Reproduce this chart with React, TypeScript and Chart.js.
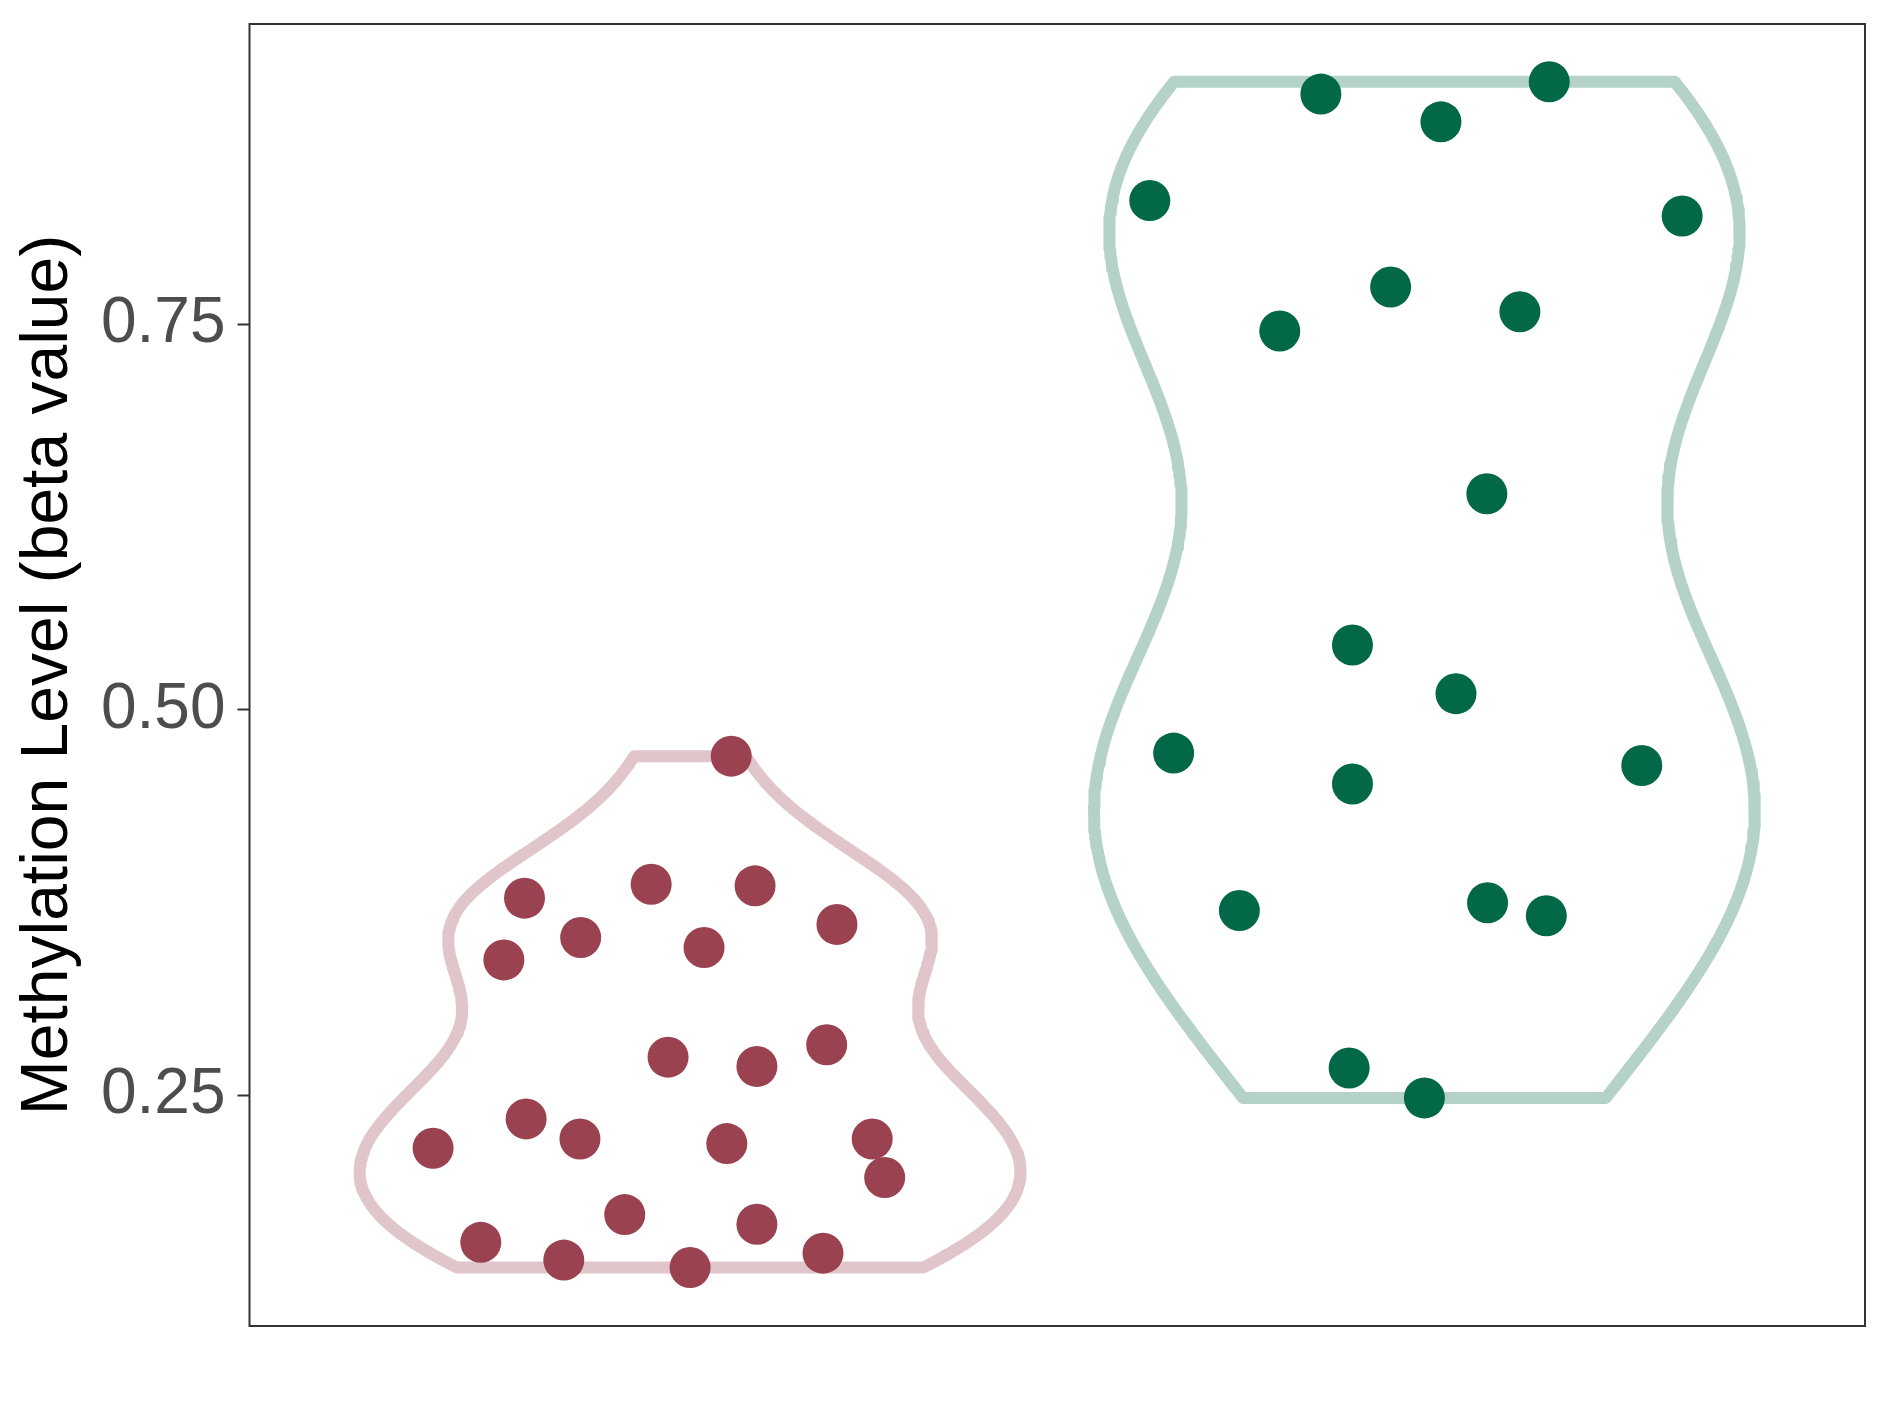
import React, { useEffect, useRef } from 'react';
import { Chart, registerables } from 'chart.js';

Chart.register(...registerables);

// Category positions on the (hidden) x axis
const categoryPositions = [1, 2];

// Group 1 (red) — methylation beta values and horizontal jitter (category units)
const group1Values = [
  0.470, 0.378, 0.387, 0.386, 0.361, 0.3525, 0.338, 0.346, 0.275, 0.269, 0.283, 0.235,
  0.216, 0.222, 0.219, 0.222, 0.197, 0.173, 0.1667, 0.155, 0.1435, 0.1387, 0.148,
];
const group1Jitter = [
  0.056, -0.2255, -0.053, 0.0885, 0.2, -0.149, -0.2536, 0.019, -0.03, 0.091, 0.186, -0.2233,
  -0.35, -0.15, 0.05, 0.248, 0.265, -0.089, 0.091, -0.285, -0.172, 0.0, 0.181,
];

// Group 2 (green)
const group2Values = [
  0.899, 0.907, 0.881, 0.83, 0.82, 0.774, 0.7455, 0.758, 0.64, 0.542, 0.5105, 0.472,
  0.452, 0.464, 0.37, 0.375, 0.3666, 0.268, 0.2486,
];
const group2Jitter = [
  -0.141, 0.17, 0.0225, -0.374, 0.351, -0.046, -0.197, 0.13, 0.085, -0.098, 0.043, -0.3415,
  -0.098, 0.296, -0.252, 0.086, 0.166, -0.1025, 0.0,
];

const yTicks = [0.25, 0.5, 0.75];
const yMin = 0.1008;
const yMax = 0.9444;
const xMin = 0.4;
const xMax = 2.6;
const violinHalfWidth = 0.45;

const yTitle = 'Methylation Level (beta value)';

function quantile7(sorted: number[], p: number) {
  const h = (sorted.length - 1) * p;
  const lo = Math.floor(h);
  const hi = Math.ceil(h);
  return sorted[lo] + (h - lo) * (sorted[hi] - sorted[lo]);
}

function bwNrd0(x: number[]) {
  const n = x.length;
  const mean = x.reduce((a, b) => a + b, 0) / n;
  const sd = Math.sqrt(x.reduce((a, b) => a + (b - mean) * (b - mean), 0) / (n - 1));
  const s = [...x].sort((a, b) => a - b);
  const iqr = quantile7(s, 0.75) - quantile7(s, 0.25);
  const lo = Math.min(sd, iqr / 1.34);
  return 0.9 * lo * Math.pow(n, -0.2);
}

// Kernel density estimate of the data (what a violin shows), trimmed to the data range
function violinOutline(values: number[], center: number) {
  const bw = bwNrd0(values);
  const lo = Math.min(...values);
  const hi = Math.max(...values);
  const N = 256;
  const ys: number[] = [];
  const ds: number[] = [];
  for (let i = 0; i < N; i++) {
    const y = lo + ((hi - lo) * i) / (N - 1);
    let d = 0;
    for (const v of values) {
      const z = (y - v) / bw;
      d += Math.exp(-0.5 * z * z);
    }
    ys.push(y);
    ds.push(d / (values.length * bw * Math.sqrt(2 * Math.PI)));
  }
  const maxD = Math.max(...ds);
  const pts: { x: number; y: number }[] = [];
  for (let i = 0; i < N; i++) pts.push({ x: center - (violinHalfWidth * ds[i]) / maxD, y: ys[i] });
  for (let i = N - 1; i >= 0; i--) pts.push({ x: center + (violinHalfWidth * ds[i]) / maxD, y: ys[i] });
  pts.push({ ...pts[0] });
  return pts;
}

const framePlugin = {
  id: 'panelFrame',
  afterDatasetsDraw(chart: any) {
    const { ctx, chartArea } = chart;
    ctx.save();
    ctx.strokeStyle = '#333333';
    ctx.lineWidth = 2;
    ctx.strokeRect(chartArea.left, chartArea.top, chartArea.right - chartArea.left, chartArea.bottom - chartArea.top);
    ctx.restore();
  },
};

export default function App() {
  const canvasRef = useRef<HTMLCanvasElement | null>(null);

  useEffect(() => {
    if (!canvasRef.current) return;
    const pts1 = group1Values.map((v, i) => ({ x: categoryPositions[0] + group1Jitter[i], y: v }));
    const pts2 = group2Values.map((v, i) => ({ x: categoryPositions[1] + group2Jitter[i], y: v }));
    const chart = new Chart(canvasRef.current, {
      type: 'scatter',
      data: {
        datasets: [
          {
            label: 'group1 points',
            data: pts1,
            backgroundColor: '#9A4250',
            borderWidth: 0,
            pointRadius: 20.5,
            pointHoverRadius: 20.5,
            showLine: false,
            order: 0,
          },
          {
            label: 'group2 points',
            data: pts2,
            backgroundColor: '#036847',
            borderWidth: 0,
            pointRadius: 20.5,
            pointHoverRadius: 20.5,
            showLine: false,
            order: 0,
          },
          {
            label: 'group1 violin',
            data: violinOutline(group1Values, categoryPositions[0]),
            showLine: true,
            borderColor: '#E0C5CA',
            borderWidth: 12,
            borderJoinStyle: 'round',
            borderCapStyle: 'round',
            pointRadius: 0,
            pointHoverRadius: 0,
            fill: false,
            tension: 0,
            order: 1,
          },
          {
            label: 'group2 violin',
            data: violinOutline(group2Values, categoryPositions[1]),
            showLine: true,
            borderColor: '#B4D2C8',
            borderWidth: 12,
            borderJoinStyle: 'round',
            borderCapStyle: 'round',
            pointRadius: 0,
            pointHoverRadius: 0,
            fill: false,
            tension: 0,
            order: 1,
          },
        ],
      } as any,
      options: {
        responsive: false,
        animation: false,
        events: [],
        layout: { padding: { left: 0, top: 24, right: 24, bottom: 91 } },
        plugins: { legend: { display: false }, tooltip: { enabled: false } },
        scales: {
          x: { type: 'linear', min: xMin, max: xMax, display: false },
          y: {
            type: 'linear',
            min: yMin,
            max: yMax,
            afterFit: (s: any) => {
              s.width = 249.5;
              s.paddingTop = 0;
              s.paddingBottom = 0;
            },
            afterBuildTicks: (s: any) => {
              s.ticks = yTicks.map((v) => ({ value: v }));
            },
            ticks: {
              callback: (v: any) => Number(v).toFixed(2),
              font: { family: 'Liberation Sans', size: 64 },
              color: '#4D4D4D',
              padding: 12,
            },
            grid: {
              drawOnChartArea: false,
              drawTicks: true,
              tickLength: 12,
              tickColor: '#333333',
              tickWidth: 2,
            },
            border: { display: false },
            title: {
              display: true,
              text: yTitle,
              font: { family: 'Liberation Sans', size: 66 },
              color: '#000000',
              padding: { top: 9, bottom: 0 },
            },
          },
        },
      } as any,
      plugins: [framePlugin],
    });
    return () => chart.destroy();
  }, []);

  return (
    <div style={{ position: 'fixed', left: 0, top: 0, width: 1889, height: 1417, background: '#ffffff' }}>
      <canvas ref={canvasRef} width={1889} height={1417} style={{ display: 'block' }} />
    </div>
  );
}
